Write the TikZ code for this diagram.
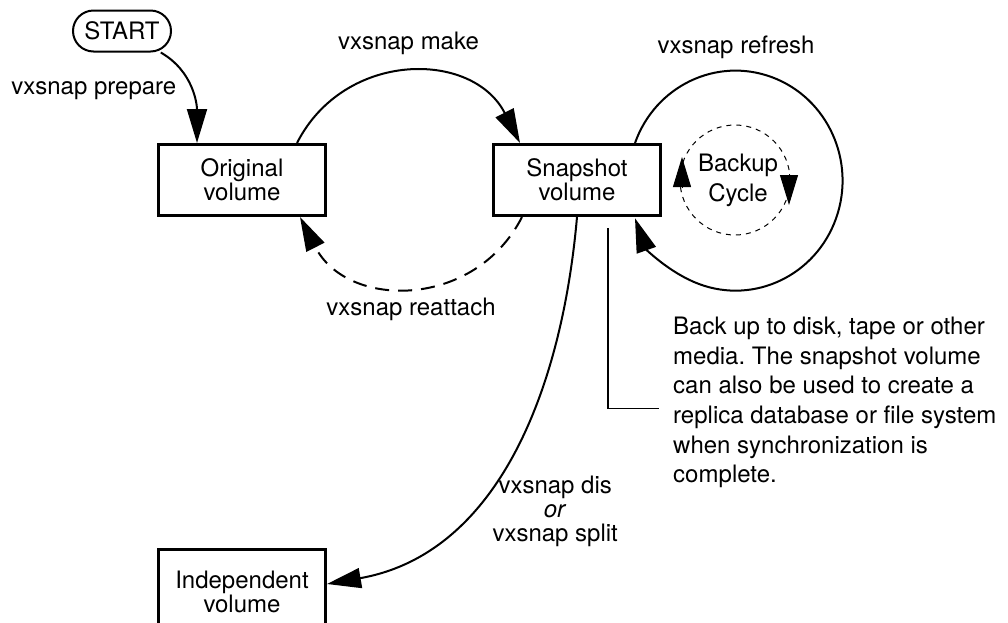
\documentclass[tikz,border=0pt]{standalone}
\usepackage{fontspec}
\setmainfont{TeX Gyre Heros}
\usetikzlibrary{positioning,arrows.meta,calc}
\tikzset{
  vol/.style={draw,line width=3pt,minimum width=167pt,minimum height=71pt,align=center,inner sep=0pt},
  term/.style={draw,line width=2pt,rounded corners=20.5pt,minimum width=98pt,minimum height=41pt,inner sep=0pt},
  lbl/.style={inner sep=0pt,align=center},
  arr/.style={line width=2pt,-{Triangle[length=34pt,width=20pt]}},
  backarr/.style={arr,dash pattern=on 14pt off 9pt},
  cyc/.style={line width=1pt,dash pattern=on 5pt off 5pt},
  cyctip/.style={line width=1pt,-{Triangle[length=30pt,width=18pt]}},
}

\begin{document}
\frenchspacing
\begin{tikzpicture}[x=1pt,y=1pt,font=\fontsize{24}{24}\selectfont]
\useasboundingbox (0,0) rectangle (1008,-622);
\fill[white] (0,0) rectangle (1008,-622);
\clip (0,0) rectangle (1008,-622);

% volumes
\node[term] (start) at (122,-31) {START};
\node[vol] (orig) at (242,-180) {Original\\volume};
\node[vol, right=165pt of orig] (snap) {Snapshot\\volume};
\node[vol, anchor=north, minimum height=84pt] (indep) at (242,-548) {Independent\\volume};

% prepare, make, reattach
\draw[arr] (start.-29) to[out=-30,in=90] node[lbl,left=14pt,pos=0.5]{vxsnap prepare} ([xshift=40pt]orig.north west);
\draw[arr] ([xshift=-30pt]orig.north east) to[out=63,in=117,looseness=1.2] node[lbl,above=18pt]{vxsnap make} ([xshift=28pt]snap.north west);
\draw[backarr] ([xshift=30pt]snap.south west) to[out=-117,in=-63,looseness=1.2] node[lbl,below=11pt]{vxsnap reattach} ([xshift=-27pt]orig.south east);

% refresh loop and backup cycle
\node[lbl, font=\fontsize{24}{30}\selectfont] (cycle) at (738,-180) {Backup\\Cycle};
\node[lbl] (refr) at ($(cycle)+(-2,133)$) {vxsnap refresh};
\draw[arr] ([xshift=-27pt]snap.north east) arc[start angle=160,end angle=-160,x radius=107,y radius=110];
\draw[cyc] ([xshift=-3pt]cycle.center) circle[radius=55];
\draw[cyctip] ($(cycle.center)+(-56,-8)$) -- ++(0,31);
\draw[cyctip] ($(cycle.center)+(51,6)$) -- ++(0,-31);

% split off
\draw[arr] (snap.south) to[out=-95,in=10] node[lbl,right=25pt,pos=0.66]{vxsnap dis\\\textit{or}\\vxsnap split} ([yshift=7.5pt]indep.east);

% note
\node[lbl, anchor=north west, align=left, font=\fontsize{24}{29.6}\selectfont] (note) at (673,-317) {Back up to disk, tape or other\\media. The snapshot volume\\can also be used to create a\\replica database or file system\\when synchronization is\\complete.};
\draw[line width=1.5pt] ([xshift=31pt,yshift=-11pt]snap.south) |- ([xshift=-14pt,yshift=-6pt]note.west);
\end{tikzpicture}
\end{document}
